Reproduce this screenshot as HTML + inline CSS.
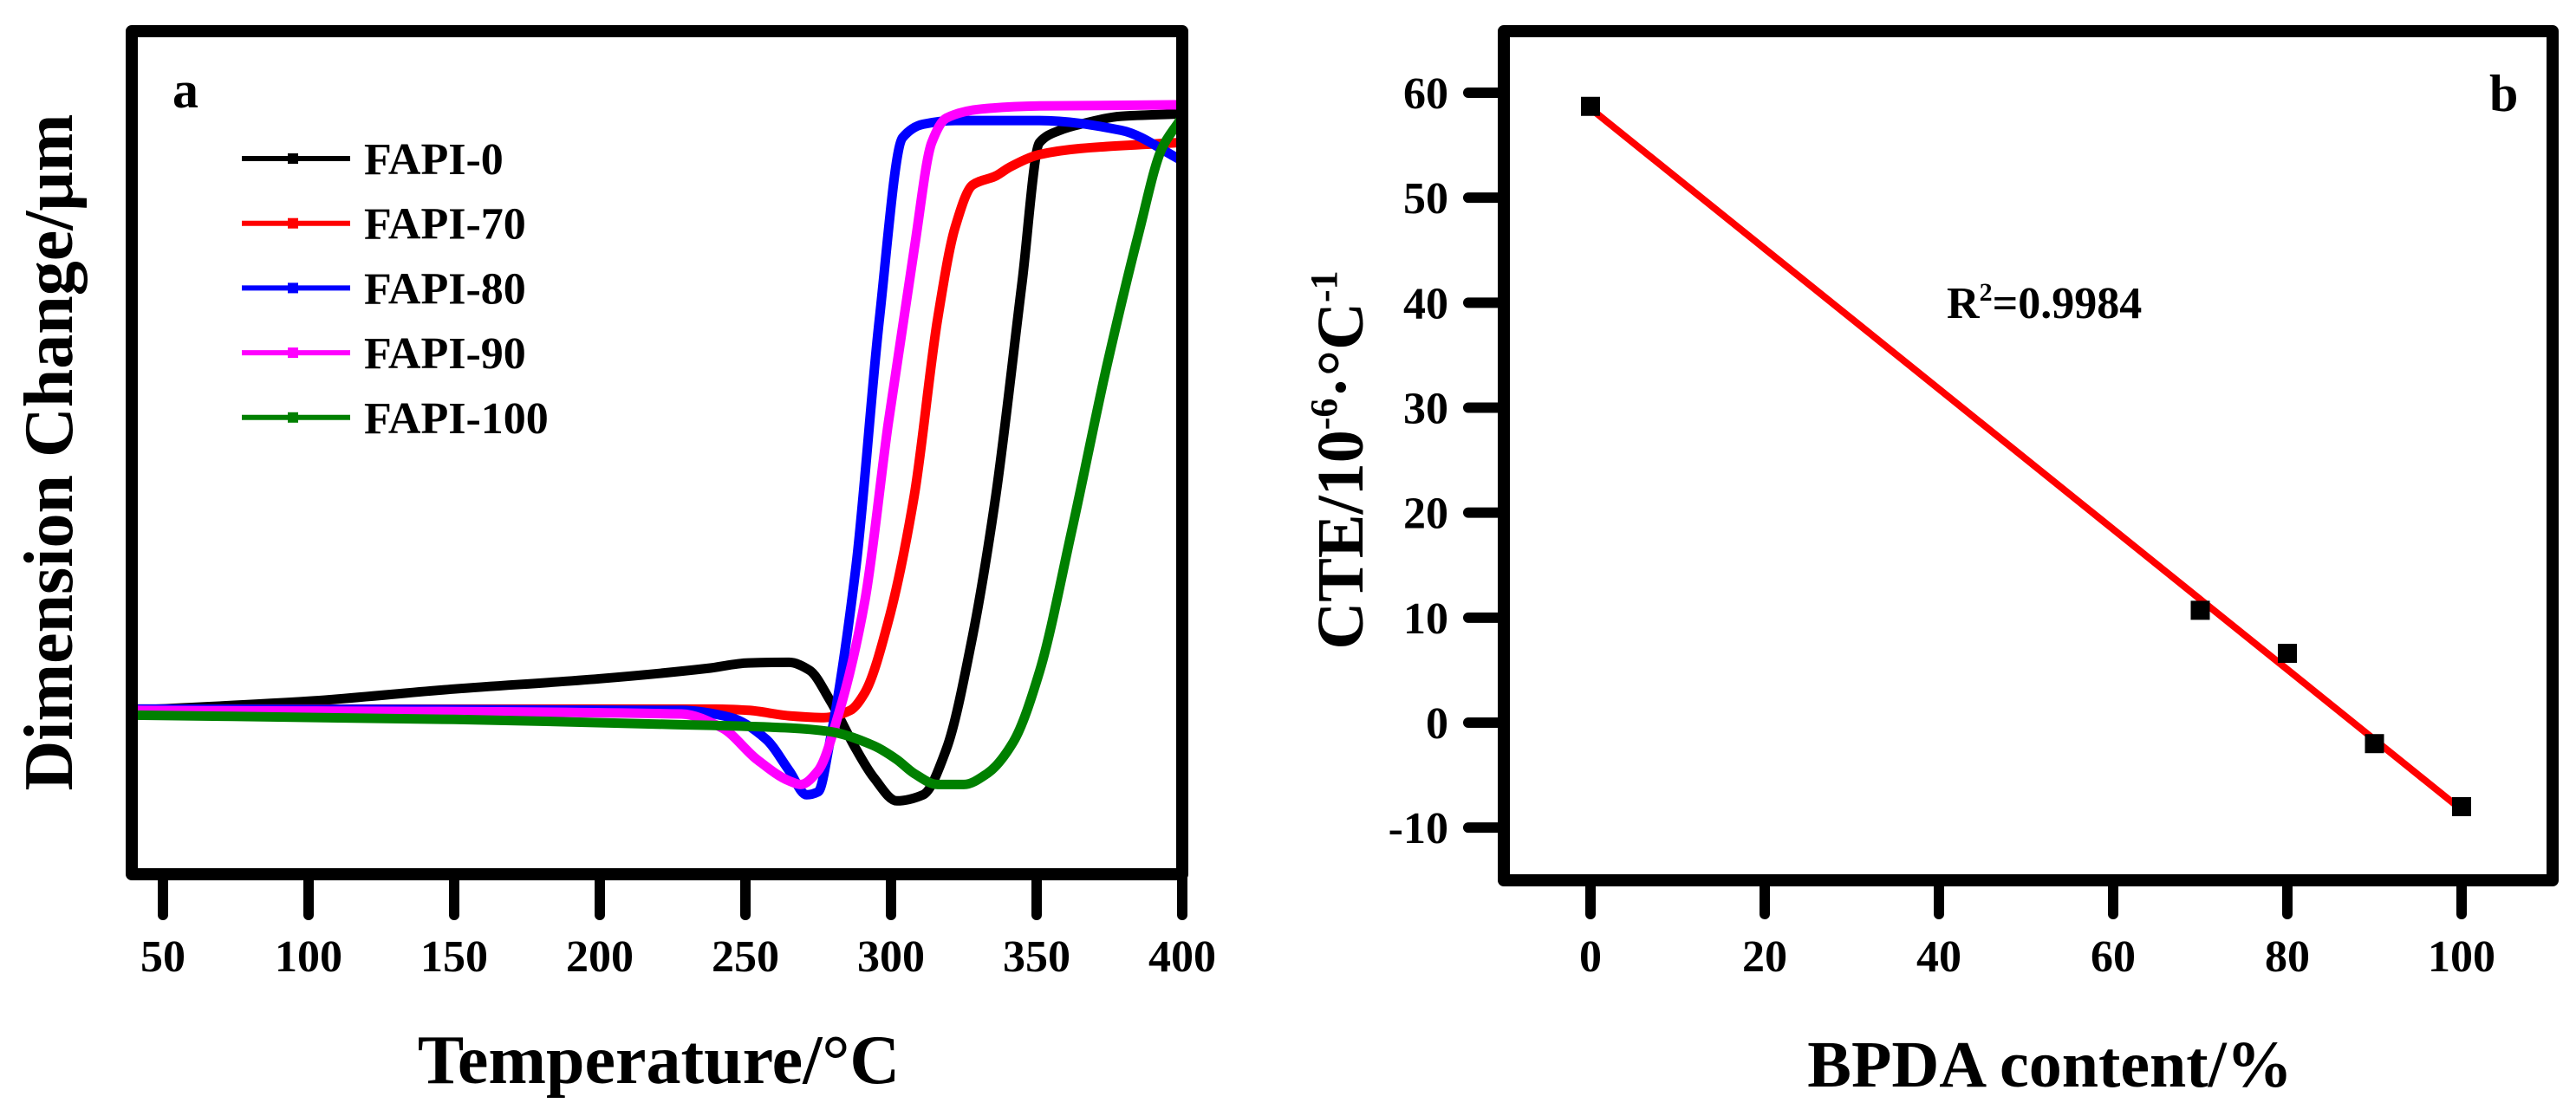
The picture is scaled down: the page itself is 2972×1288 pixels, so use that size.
<!DOCTYPE html>
<html><head><meta charset="utf-8"><style>
html,body{margin:0;padding:0;background:#fff;}
svg{display:block;font-family:"Liberation Serif",serif;font-weight:bold;}
</style></head><body>
<svg id="fig" width="2972" height="1288" viewBox="0 0 2972 1288" xmlns="http://www.w3.org/2000/svg">
<rect width="2972" height="1288" fill="#fff"/>
<g id="pa"></g>
<g id="pb"></g>
</svg>
<script>
// ---- Panel a data ----
const aXTicks = [50,100,150,200,250,300,350,400];
const aSeriesNames = ["FAPI-0","FAPI-70","FAPI-80","FAPI-90","FAPI-100"];
const aColors = ["#000000","#ff0000","#0000ff","#ff00ff","#008000"];
const fapi0T = [40,100,150,200,237,251,265,272,279,288,294,302,311,319,328,336,345,351,358,365,379,400];
const fapi0V = [0.6,2.1,4.1,5.8,7.5,8.4,8.5,7.2,2.3,-5.8,-10.4,-14.3,-13.3,-5.8,12.8,36,71,94,96,97,98.3,98.7];
const fapi70T = [40,240,251,265,277,286,291,299,308,316,322,328,336,341,351,365,400];
const fapi70V = [0.8,0.8,0.6,-0.3,-0.6,0.6,3.5,15.1,36,65,80,87,88.5,90,92,93,94];
const fapi80T = [40,228,245,257,265,271,275,279,288,296,304,311,322,351,379,400];
const fapi80V = [0.8,0.6,-0.6,-4.1,-9.3,-13.3,-12.8,-4.6,24.4,65,94.8,97,97.6,97.6,96,91];
const fapi90T = [40,228,242,254,265,269,275,282,291,299,308,314,319,331,351,400];
const fapi90V = [0.6,0,-2.3,-7.5,-11,-11.6,-9.3,0,18.6,47.6,76.6,94,98,99.5,100,100.2];
const fapi100T = [40,150,222,265,279,294,302,308,316,325,333,342,351,362,374,385,393,399];
const fapi100V = [-0.2,-0.9,-1.7,-2.3,-2.9,-5.2,-7.5,-9.8,-11.6,-11.6,-9.8,-4.6,7,30,57,79,93,97.5];
// ---- Panel b data ----
const bXTicks = [0,20,40,60,80,100];
const bYTicks = [-10,0,10,20,30,40,50,60];
const bContent = [0,70,80,90,100];
const bCTE = [58.7,10.7,6.6,-2.0,-8.0];
const bFit = [58.5,-8.3]; // intercept and value at 100

const NS="http://www.w3.org/2000/svg";
function mk(tag,parent){const e=document.createElementNS(NS,tag);parent.appendChild(e);return e;}
// monotone cubic (Fritsch-Carlson) in pixel space, x increasing
function smooth(pts){
  const n=pts.length, d=[], m=[];
  for(let i=0;i<n-1;i++) d.push((pts[i+1][1]-pts[i][1])/(pts[i+1][0]-pts[i][0]));
  m[0]=d[0]; m[n-1]=d[n-2];
  for(let i=1;i<n-1;i++){
    if(d[i-1]*d[i]<=0) m[i]=0;
    else { const h0=pts[i][0]-pts[i-1][0], h1=pts[i+1][0]-pts[i][0];
      const w1=2*h1+h0, w2=h1+2*h0; m[i]=(w1+w2)/(w1/d[i-1]+w2/d[i]); }
  }
  let s="M"+pts[0][0].toFixed(1)+","+pts[0][1].toFixed(1);
  for(let i=0;i<n-1;i++){
    const h=(pts[i+1][0]-pts[i][0])/3;
    s+="C"+(pts[i][0]+h).toFixed(1)+","+(pts[i][1]+m[i]*h).toFixed(1)+" "+(pts[i+1][0]-h).toFixed(1)+","+(pts[i+1][1]-m[i+1]*h).toFixed(1)+" "+pts[i+1][0].toFixed(1)+","+pts[i+1][1].toFixed(1);
  }
  return s;
}

// ===== Panel A =====
const pa=document.getElementById('pa');
const aL=152,aR=1364,aT=36,aB=1009;
const ax=t=>188+(t-50)*(1364-188)/350;
const ay=v=>824-7.017*v;
const aSeriesT=[fapi0T,fapi70T,fapi80T,fapi90T,fapi100T];
const aSeriesV=[fapi0V,fapi70V,fapi80V,fapi90V,fapi100V];
for(let s=0;s<5;s++){
  const p=mk('path',pa);
  
  
  const pts=aSeriesT[s].map((t,i)=>[ax(t),ay(aSeriesV[s][i])]);
  p.setAttribute('d',smooth(pts));
  p.setAttribute('fill','none');p.setAttribute('stroke',aColors[s]);
  p.setAttribute('stroke-width','11');p.setAttribute('stroke-linejoin','round');p.setAttribute('stroke-linecap','round');
}
const fa=mk('rect',pa);


fa.setAttribute('x',aL);fa.setAttribute('y',aT);fa.setAttribute('width',aR-aL);fa.setAttribute('height',aB-aT);
fa.setAttribute('fill','none');fa.setAttribute('stroke','#000');fa.setAttribute('stroke-width','14');fa.setAttribute('stroke-linejoin','round');
aXTicks.forEach(t=>{
  const l=mk('line',pa);
  
  
  l.setAttribute('x1',ax(t));l.setAttribute('x2',ax(t));l.setAttribute('y1',aB);l.setAttribute('y2',1056);
  l.setAttribute('stroke','#000');l.setAttribute('stroke-width','12');l.setAttribute('stroke-linecap','round');
  const tx=mk('text',pa);
  
  
  tx.setAttribute('x',ax(t));tx.setAttribute('y',1121);tx.setAttribute('text-anchor','middle');tx.setAttribute('font-size','52');
  tx.textContent=t;
});
aSeriesNames.forEach((n,i)=>{
  const y=183+i*74.7;
  const l=mk('line',pa);
  
  
  l.setAttribute('x1',279);l.setAttribute('x2',404);l.setAttribute('y1',y);l.setAttribute('y2',y);
  l.setAttribute('stroke',aColors[i]);l.setAttribute('stroke-width','6');
  const m=mk('rect',pa);
  
  
  m.setAttribute('x',332);m.setAttribute('y',y-6);m.setAttribute('width',12);m.setAttribute('height',12);m.setAttribute('fill',aColors[i]);
  const tx=mk('text',pa);
  
  
  tx.setAttribute('x',420);tx.setAttribute('y',y+18);tx.setAttribute('font-size','52');
  tx.textContent=n;
});
const la=mk('text',pa);


la.setAttribute('x',199);la.setAttribute('y',124);la.setAttribute('font-size','60');la.textContent='a';
const xta=mk('text',pa);


xta.setAttribute('x',760);xta.setAttribute('y',1250);xta.setAttribute('text-anchor','middle');xta.setAttribute('font-size','80');
xta.textContent='Temperature/°C';
const yta=mk('text',pa);


yta.setAttribute('transform','translate(83,522) rotate(-90)');yta.setAttribute('text-anchor','middle');yta.setAttribute('font-size','80');
yta.textContent='Dimension Change/μm';

// ===== Panel B =====
const pb=document.getElementById('pb');
const bL=1735,bR=2945,bT=36,bB=1016;
const bx=c=>1835+c*(2840-1835)/100;
const by=v=>834-v*(834-107)/60;
const fl=mk('line',pb);


fl.setAttribute('x1',bx(0));fl.setAttribute('y1',by(bFit[0]));fl.setAttribute('x2',bx(100));fl.setAttribute('y2',by(bFit[1]));
fl.setAttribute('stroke','#ff0000');fl.setAttribute('stroke-width','8');
bContent.forEach((c,i)=>{
  const r=mk('rect',pb);
  
  
  r.setAttribute('x',bx(c)-11);r.setAttribute('y',by(bCTE[i])-11);r.setAttribute('width',22);r.setAttribute('height',22);r.setAttribute('fill','#000');
});
const fb=mk('rect',pb);


fb.setAttribute('x',bL);fb.setAttribute('y',bT);fb.setAttribute('width',bR-bL);fb.setAttribute('height',bB-bT);
fb.setAttribute('fill','none');fb.setAttribute('stroke','#000');fb.setAttribute('stroke-width','14');fb.setAttribute('stroke-linejoin','round');
bXTicks.forEach(t=>{
  const l=mk('line',pb);
  
  
  l.setAttribute('x1',bx(t));l.setAttribute('x2',bx(t));l.setAttribute('y1',bB);l.setAttribute('y2',1055);
  l.setAttribute('stroke','#000');l.setAttribute('stroke-width','12');l.setAttribute('stroke-linecap','round');
  const tx=mk('text',pb);
  
  
  tx.setAttribute('x',bx(t));tx.setAttribute('y',1121);tx.setAttribute('text-anchor','middle');tx.setAttribute('font-size','52');
  tx.textContent=t;
});
bYTicks.forEach(t=>{
  const l=mk('line',pb);
  
  
  l.setAttribute('x1',1694);l.setAttribute('x2',bL);l.setAttribute('y1',by(t));l.setAttribute('y2',by(t));
  l.setAttribute('stroke','#000');l.setAttribute('stroke-width','12');l.setAttribute('stroke-linecap','round');
  const tx=mk('text',pb);
  
  
  tx.setAttribute('x',1671);tx.setAttribute('y',by(t)+18);tx.setAttribute('text-anchor','end');tx.setAttribute('font-size','52');
  tx.textContent=t;
});
const r2=mk('text',pb);


r2.setAttribute('x',2246);r2.setAttribute('y',367);r2.setAttribute('font-size','52');
r2.innerHTML='R<tspan dy="-20" font-size="30">2</tspan><tspan dy="20">=0.9984</tspan>';
const lb=mk('text',pb);


lb.setAttribute('x',2872);lb.setAttribute('y',128);lb.setAttribute('font-size','60');lb.textContent='b';
const xtb=mk('text',pb);


xtb.setAttribute('x',2365);xtb.setAttribute('y',1254);xtb.setAttribute('text-anchor','middle');xtb.setAttribute('font-size','76');
xtb.textContent='BPDA content/%';
const ytb=mk('text',pb);


ytb.setAttribute('transform','translate(1572,531) rotate(-90)');ytb.setAttribute('text-anchor','middle');ytb.setAttribute('font-size','76');
ytb.innerHTML='CTE/10<tspan dy="-30" font-size="44">-6</tspan><tspan dy="30">·°C</tspan><tspan dy="-30" font-size="44">-1</tspan>';
</script>
</body></html>
